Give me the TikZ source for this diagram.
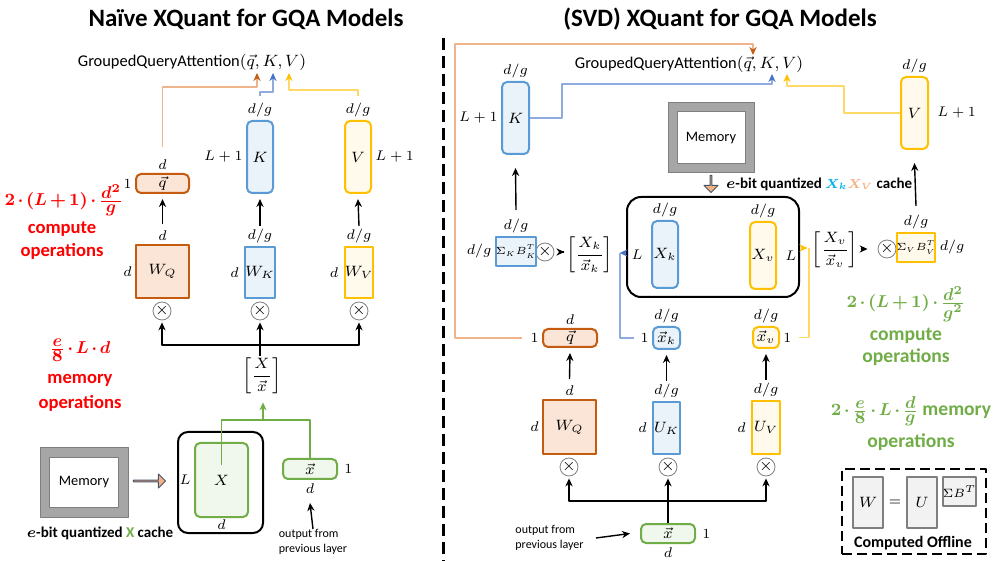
\documentclass[tikz,border=0pt]{standalone}
\usepackage{fix-cm}
\usepackage{amsmath}
\usepackage{fontspec}
\setmainfont{Carlito}
\usetikzlibrary{arrows.meta,shapes.arrows}
\definecolor{qcol}{HTML}{C55A11}
\definecolor{qfill}{HTML}{FBE5D6}
\definecolor{qlinec}{HTML}{F0B48C}
\definecolor{kcol}{HTML}{5B9BD5}
\definecolor{kfill}{HTML}{EAF2FA}
\definecolor{klinec}{HTML}{8FAADC}
\definecolor{ktip}{HTML}{4472C4}
\definecolor{vcol}{HTML}{FFC000}
\definecolor{vfill}{HTML}{FFFAEC}
\definecolor{vlinec}{HTML}{FFD966}
\definecolor{xcol}{HTML}{70AD47}
\definecolor{xfill}{HTML}{F0F7EC}
\definecolor{xkc}{HTML}{00B0F0}
\definecolor{xvc}{HTML}{F4B183}
\definecolor{memgray}{HTML}{A6A6A6}
\definecolor{memdark}{HTML}{7F7F7F}
\definecolor{arrline}{HTML}{44546A}
\definecolor{lgray}{HTML}{F2F2F2}
% bold cost formula with tight operator spacing
\newcommand{\opsmath}[1]{{\medmuskip=2.5mu\fontsize{8.6}{11}\selectfont$\boldsymbol{#1}$}}
\newcommand{\opsfrac}[2]{\frac{\textstyle #1}{\textstyle #2}}
\begin{document}
\begin{tikzpicture}[x=0.5pt,y=-0.5pt,>={Stealth[length=4pt,width=3.6pt]},line join=round,
  dim/.style={font=\fontsize{7}{8}\selectfont,inner sep=1pt},
  every label/.style={dim},label distance=0.5pt,
  box/.style={draw,line width=1pt,inner sep=0pt,font=\fontsize{7.5}{9}\selectfont},
  qbox/.style={box,draw=qcol,fill=qfill},
  kbox/.style={box,draw=kcol,fill=kfill},
  vbox/.style={box,draw=vcol,fill=vfill},
  xbox/.style={box,draw=xcol,fill=xfill},
  lbox/.style={box,draw=memdark,fill=lgray},
  rbox/.style={rounded corners=2.5pt},
  sigbox/.style={minimum width=15pt,minimum height=14.5pt,font=\fontsize{5.2}{6}\selectfont},
  cache/.style={draw,line width=1pt,inner sep=0pt},
  mult/.style={circle,draw=gray,inner sep=0pt,minimum size=9pt,font=\fontsize{8}{8}\selectfont},
  memframe/.style={draw=memdark,fill=memgray,line width=0.5pt,inner sep=0pt},
  memcore/.style={draw=memdark,fill=white,line width=0.5pt,inner sep=0pt,font=\fontsize{7.2}{8}\selectfont},
  fatarrow/.style={single arrow,draw=arrline,fill=xvc,line width=0.5pt,inner sep=0pt,minimum width=7pt,single arrow head extend=1.6pt},
  title/.style={font=\fontsize{12.5}{14}\selectfont\bfseries},
  gqa/.style={font=\fontsize{8.2}{10}\selectfont},
  capt/.style={font=\fontsize{7.5}{9}\selectfont\bfseries},
  small/.style={font=\fontsize{6}{7.5}\selectfont,align=left,inner sep=0pt},
  redtxt/.style={font=\fontsize{9.3}{11}\selectfont\bfseries,text=red},
  grntxt/.style={font=\fontsize{9.8}{12}\selectfont\bfseries,text=xcol},
  qline/.style={draw=qlinec,line width=0.6pt,-{Stealth[length=4pt,width=3.6pt,color=qcol]}},
  kline/.style={draw=klinec,line width=0.6pt,-{Stealth[length=4pt,width=3.6pt,color=ktip]}},
  vline/.style={draw=vlinec,line width=0.6pt,-{Stealth[length=4pt,width=3.6pt,color=vcol]}},
  xline/.style={draw=xcol,line width=0.6pt,-{Stealth[length=4pt,width=3.6pt,color=xcol]}},
  link/.style={line width=0.7pt,->}]
\useasboundingbox (0,0) rectangle (997,561);

% ---------- naive XQuant ----------
\node[title] (ttlL) at (246,19) {Naïve XQuant for GQA Models};
\node[gqa] (gqaL) at (192,62) {GroupedQueryAttention$(\vec{q},K,V)$};
\coordinate (qinL) at (257,73);
\coordinate (kinL) at (273,73);
\coordinate (vinL) at (289,73);

\node[qbox,rbox,minimum width=26.5pt,minimum height=9.5pt,label={above:$d$},label={left:$1$}] (qL) at (162.5,183.5) {$\vec{q}$};
\node[kbox,rbox,minimum width=13pt,minimum height=36pt,label={above:$d/g$},label={left:$L+1$}] (kL) at (260,157) {$K$};
\node[vbox,rbox,minimum width=13pt,minimum height=36pt,label={above:$d/g$},label={right:$L+1$}] (vL) at (358,157) {$V$};
\node[qbox,minimum width=26.5pt,minimum height=26.5pt,label={above:$d$},label={left:$d$}] (wqL) at (162.5,271.5) {$W_Q$};
\node[kbox,minimum width=13pt,minimum height=25.5pt,label={above:$d/g$},label={[label distance=1.5pt]left:$d$}] (wkL) at (260,272.5) {$W_K$};
\node[vbox,minimum width=13pt,minimum height=25.5pt,label={above:$d/g$},label={[label distance=1.5pt]left:$d$}] (wvL) at (359,272.5) {$W_V$};
\node[mult] (mqL) at (162,311) {$\times$};
\node[mult] (mkL) at (260,311) {$\times$};
\node[mult] (mvL) at (359,311) {$\times$};
\node[dim,font=\fontsize{7.5}{9}\selectfont] (stkL) at (262,376) {$\left[\dfrac{X}{\vec{x}}\right]$};
\coordinate (splitL) at (260,345);
\coordinate (gjoinL) at (263,420);

\node[cache,rounded corners=5pt,minimum width=42.5pt,minimum height=50.5pt] (cacheL) at (220.5,482.5) {};
\node[xbox,rbox,minimum width=26.5pt,minimum height=37pt,label={left:$L$},label={[label distance=-0.5pt]below:$d$}] (xL) at (221.5,480) {$X$};
\node[xbox,rbox,minimum width=27pt,minimum height=10pt,label={[label distance=2pt]right:$1$},label={below:$d$}] (xvL) at (310,469) {$\vec{x}$};
\node[small,anchor=north] (outL) at (313,529) {output from\\previous layer};

\node[memframe,minimum width=44pt,minimum height=34.5pt] (memL) at (84,482.5) {};
\node[memcore,minimum width=34.5pt,minimum height=25pt] (memLin) at (memL) {Memory};
\node[fatarrow,minimum height=16pt] (marrL) at (149,481) {};
\node[capt] (capL) at (100,533) {$\boldsymbol{e}$-bit quantized \textcolor{xcol}{X} cache};

\node[redtxt] (cmpL) at (64,200) {\opsmath{2\cdot(L+1)\cdot\opsfrac{d^2}{g}}};
\node[redtxt] (cmpL2) at (62,229) {compute};
\node[redtxt] (cmpL3) at (62,251) {operations};
\node[redtxt] (mopL) at (80,350) {\opsmath{\opsfrac{e}{8}\cdot L\cdot d}};
\node[redtxt] (mopL2) at (80,380) {memory};
\node[redtxt] (mopL3) at (80,403) {operations};

\draw[qline] ([yshift=13pt]qL.north) |- ([yshift=-7pt]qinL) -- (qinL);
\draw[kline] ([yshift=12pt]kL.north) |- ([yshift=-9.5pt]kinL) -- (kinL);
\draw[vline] ([yshift=12pt]vL.north) |- ([yshift=-8.5pt]vinL) -- (vinL);
\draw[link] ([yshift=10pt]wqL.north) -- ([yshift=-2.5pt]qL.south);
\draw[link] ([yshift=10pt]wkL.north) -- ([yshift=-2.5pt]kL.south);
\draw[link] ([yshift=10pt]wvL.north) -- ([yshift=-2.5pt]vL.south);
\draw[link] (splitL) -| ([yshift=-1pt]mqL.south);
\draw[link] (splitL) -| ([yshift=-1pt]mvL.south);
\draw[link] (mkL.south |- stkL.north) -- ([yshift=-1pt]mkL.south);
\draw[xline,-] ([yshift=7.5pt]xL.center) |- (gjoinL) -| (xvL.north);
\draw[xline] (gjoinL) -- ([yshift=-3pt]gjoinL |- stkL.south);
\draw[link] (outL.north) -- ([yshift=-11.5pt]xvL.south);

% ---------- divider ----------
\draw[line width=1.5pt,dash pattern=on 6pt off 3pt] (443,38) -- (443,561);

% ---------- SVD XQuant ----------
\node[title] (ttlR) at (720,19) {(SVD) XQuant for GQA Models};
\node[gqa] (gqaR) at (689,64) {GroupedQueryAttention$(\vec{q},K,V)$};
\coordinate (qinR) at (753,55);
\coordinate (kinR) at (772,74);
\coordinate (vinR) at (787,74);
\coordinate (loopR) at (455,44);
\coordinate (kbendR) at (562,84);
\coordinate (vbendR) at (844,86);

\node[kbox,rbox,minimum width=13.5pt,minimum height=36pt,label={above:$d/g$},label={left:$L+1$}] (kR) at (515.5,118) {$K$};
\node[vbox,rbox,minimum width=13.5pt,minimum height=36pt,label={above:$d/g$},label={[label distance=3pt]right:$L+1$}] (vR) at (914.5,113) {$V$};

\node[memframe,minimum width=43pt,minimum height=35pt] (memR) at (711,138) {};
\node[memcore,minimum width=34pt,minimum height=26pt] (memRin) at (memR) {Memory};
\node[fatarrow,shape border rotate=270,minimum height=8.5pt] (marrR) at (711,183.5) {};
\node[capt,anchor=west] (capR) at (719,184) {$\boldsymbol{e}$-bit quantized {\fontsize{6.5}{8}\selectfont$\boldsymbol{\color{xkc}X_k\color{xvc}X_V}$} cache};

\node[cache,rounded corners=7pt,minimum width=86pt,minimum height=50pt] (cacheR) at (713,247) {};
\node[kbox,rbox,minimum width=13pt,minimum height=33.5pt,label={above:$d/g$},label={[label distance=3pt]left:$L$}] (xkR) at (665,254.5) {$X_k$};
\node[vbox,rbox,minimum width=13pt,minimum height=33.5pt,label={above:$d/g$},label={[label distance=3pt]right:$L$}] (xvR) at (763,255.5) {$X_v$};

\node[dim,font=\fontsize{7.5}{9}\selectfont] (stkK) at (590,255) {$\left[\dfrac{X_k}{\vec{x}_k}\right]$};
\node[dim,font=\fontsize{7.5}{9}\selectfont] (stkV) at (835,250) {$\left[\dfrac{X_v}{\vec{x}_v}\right]$};
\node[mult] (mskR) at (545,252) {$\times$};
\node[mult] (msvR) at (887,249) {$\times$};
\node[kbox,sigbox,label={above:$d/g$},label={left:$d/g$}] (skR) at (516,251.5) {$\Sigma_K B_K^T$};
\node[vbox,sigbox,label={above:$d/g$},label={right:$d/g$}] (svR) at (916,247.5) {$\Sigma_V B_V^T$};
\coordinate (kjoinR) at (620,253);
\coordinate (vjoinR) at (809,248);

\node[qbox,rbox,minimum width=27pt,minimum height=9pt,label={above:$d$},label={left:$1$}] (qR) at (570,338) {$\vec{q}$};
\node[kbox,rbox,minimum width=13.5pt,minimum height=11pt,label={above:$d/g$},label={left:$1$}] (xkvR) at (666.5,338) {$\vec{x}_k$};
\node[vbox,rbox,minimum width=13pt,minimum height=10.5pt,label={above:$d/g$},label={right:$1$}] (xvvR) at (766,337.5) {$\vec{x}_v$};
\node[qbox,minimum width=26.5pt,minimum height=27pt,label={above:$d$},label={left:$d$}] (wqR) at (569.5,427) {$W_Q$};
\node[kbox,minimum width=13.5pt,minimum height=26pt,label={above:$d/g$},label={[label distance=1.5pt]left:$d$}] (ukR) at (666.5,428) {$U_K$};
\node[vbox,minimum width=14pt,minimum height=26.5pt,label={above:$d/g$},label={[label distance=1.5pt]left:$d$}] (uvR) at (766,427.5) {$U_V$};
\node[mult] (mqR) at (569,467) {$\times$};
\node[mult] (mkR) at (668,467) {$\times$};
\node[mult] (mvR) at (766,467) {$\times$};
\coordinate (splitR) at (668,501);
\node[xbox,rbox,minimum width=27pt,minimum height=9.5pt,label={[label distance=2pt]right:$1$},label={below:$d$}] (xR) at (668,533.5) {$\vec{x}$};
\node[small,anchor=east] (outR) at (584,538) {output from\\previous layer};

\node[grntxt] (cmpR) at (906,304) {\opsmath{2\cdot(L+1)\cdot\opsfrac{d^2}{g^2}}};
\node[grntxt] (cmpR2) at (906,336) {compute};
\node[grntxt] (cmpR3) at (906,357) {operations};
\node[grntxt] (mopR) at (911,411) {\opsmath{2\cdot\opsfrac{e}{8}\cdot L\cdot\opsfrac{d}{g}} memory};
\node[grntxt] (mopR2) at (911,442) {operations};

% computed offline
\node[draw,line width=1pt,dash pattern=on 5pt off 2.5pt,inner sep=0pt,minimum width=72pt,minimum height=42.5pt] (offl) at (914,511.5) {};
\node[lbox,minimum width=15pt,minimum height=25.5pt] (lw) at (868,502.5) {$W$};
\node[dim] (leq) at (895,503) {$=$};
\node[lbox,minimum width=15pt,minimum height=25.5pt] (lu) at (922,502.5) {$U$};
\node[lbox,minimum width=15.5pt,minimum height=14.5pt,font=\fontsize{6}{7}\selectfont] (lsb) at (959.5,491.5) {$\Sigma B^T$};
\node[capt,font=\fontsize{8}{9}\selectfont\bfseries] (offtxt) at (913,543) {Computed Offline};

\draw[qline] ([xshift=-10pt]qR.west) -| (loopR) -| (qinR);
\draw[kline] (kR.east) -| (kbendR) -| (kinR);
\draw[vline] (vR.west) -| (vbendR) -| (vinR);
\draw[kline] (cacheR.west |- kjoinR) -- ([xshift=2pt]stkK.east |- kjoinR);
\draw[kline,-] ([xshift=-9pt]xkvR.west) -| (kjoinR);
\draw[vline] (cacheR.east |- vjoinR) -- ([xshift=-1pt]stkV.west |- vjoinR);
\draw[vline,-] ([xshift=9.5pt]xvvR.east) -| (vjoinR);
\draw[link] (stkK.west |- mskR) -- ([xshift=5pt]mskR.east);
\draw[link] (stkV.east |- msvR) -- ([xshift=-5pt]msvR.west);
\draw[link] ([yshift=13pt]skR.north) -- ([yshift=-6.5pt]kR.south);
\draw[link] ([yshift=13pt]svR.north) -- ([yshift=-6.5pt]vR.south);
\draw[link] ([yshift=10pt]wqR.north) -- ([yshift=-2.5pt]qR.south);
\draw[link] ([yshift=10pt]ukR.north) -- ([yshift=-2.5pt]xkvR.south);
\draw[link] ([yshift=10pt]uvR.north) -- ([yshift=-2.5pt]xvvR.south);
\draw[link] (splitR) -| ([yshift=-1pt]mqR.south);
\draw[link] (splitR) -| ([yshift=-1pt]mvR.south);
\draw[link] (xR.north) -- ([yshift=-1pt]mkR.south);
\draw[link] ([xshift=6pt]outR.east) -- ([xshift=-5pt]xR.west);
\end{tikzpicture}
\end{document}
